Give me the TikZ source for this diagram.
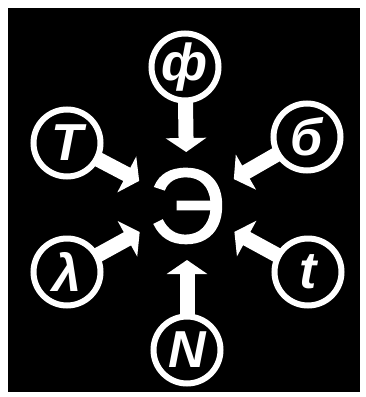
\documentclass[tikz,border=0pt]{standalone}
\usepackage{fontspec}
\setmainfont{Liberation Sans}
\newfontfamily\efont[FakeBold=1.5]{Liberation Sans}
\usetikzlibrary{arrows.meta,calc}
\pgfdeclarelayer{bg}
\pgfdeclarelayer{mid}
\pgfsetlayers{bg,mid,main}
\begin{document}
\begin{tikzpicture}[x=1pt,y=-1pt,
  bubble/.style={circle, draw=white, fill=black, line width=6pt, minimum size=67pt,
    inner sep=0pt, text=white, font=\fontsize{52}{52}\selectfont\bfseries\itshape},
  flow/.style={draw=white, line width=15pt, -{Triangle[width=40pt,length=14pt]}},
  big/.style={text=white, inner sep=0pt, font=\efont\fontsize{106}{106}\selectfont}]
\useasboundingbox (0,0) rectangle (365,397);
\begin{pgfonlayer}{bg}
\fill[black] (8,8) rectangle (360,392);
\end{pgfonlayer}
\node[big] (E) at (187,206) {Э};
\node[bubble] (F) at (185,67) {ф};
\node[bubble] (T) at (67,143) {T};
\node[bubble] (B) at (307,137) {б};
\node[bubble] (L) at (67,272) {λ};
\node[bubble] (S) at (308,272) {t};
\node[bubble] (N) at (187,350) {N};
\begin{pgfonlayer}{mid}
\foreach \n in {F,T,B,L,S,N}{
  \coordinate (tip\n) at ($(E.center)!54pt!(\n.center)$);
  \draw[flow] (\n.center) -- (tip\n);
}
\end{pgfonlayer}
\end{tikzpicture}
\end{document}
